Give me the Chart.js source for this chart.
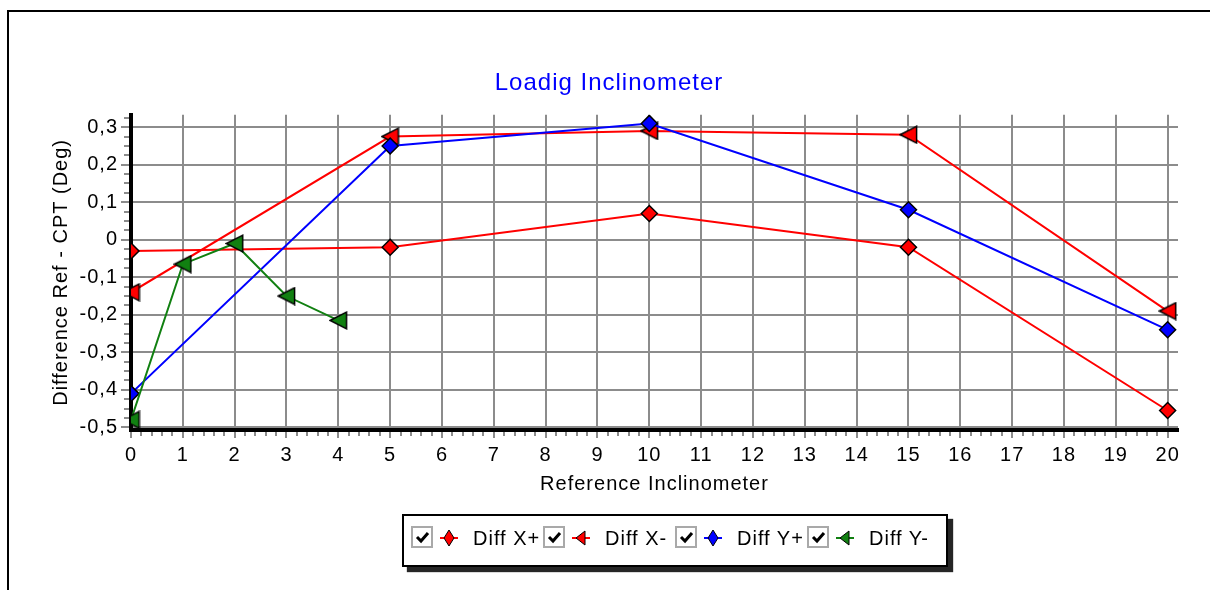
<!DOCTYPE html>
<html>
<head>
<meta charset="utf-8">
<title>Loadig Inclinometer</title>
<script src="https://cdn.jsdelivr.net/npm/chart.js@4.4.1/dist/chart.umd.min.js"></script>
<style>
  html, body { margin: 0; padding: 0; background: #fff; }
  body { width: 1210px; height: 590px; position: relative; overflow: hidden; font-family: 'Liberation Sans', Arial, sans-serif; }
  #frame { position: absolute; left: 7px; top: 10px; right: 0; bottom: 0; border-top: 2px solid #000; border-left: 2px solid #000; }
  #chart { position: absolute; left: 0; top: 0; }
  #legend {
    position: absolute; left: 402px; top: 514px; width: 546px; height: 53px;
    box-sizing: border-box; border: 2px solid #000; background: #fff;
    box-shadow: 5px 5px 1px rgba(0, 0, 0, .85);
    display: flex; padding: 10px 0 0 7px;
  }
  .item { position: relative; width: 132px; height: 24px; flex: none; }
  .item .box { position: absolute; left: 0; top: 0; width: 22px; height: 22px; box-sizing: border-box; border: 2px solid #a9a9a9; background: #fff; }
  .item .box svg { position: absolute; left: 0; top: 0; }
  .item .marker { position: absolute; left: 28px; top: 2px; }
  .item span { position: absolute; left: 62px; top: 0; font-size: 20px; line-height: 24px; letter-spacing: 1px; white-space: nowrap; color: #000; }
</style>
</head>
<body>
<div id="frame"></div>
<canvas id="chart" width="1210" height="590"></canvas>
<div id="legend"></div>
<script>
// reference inclinometer positions
const refSteps = [0, 5, 10, 15, 20];
const refStepsYMinus = [0, 1, 2, 3, 4];

// difference Ref - CPT in degrees
const diffXPlus = [-0.03, -0.02, 0.07, -0.02, -0.455];
const diffXMinus = [-0.14, 0.275, 0.29, 0.28, -0.19];
const diffYPlus = [-0.41, 0.25, 0.31, 0.08, -0.24];
const diffYMinus = [-0.48, -0.065, -0.01, -0.15, -0.215];

const seriesNames = ['Diff X+', 'Diff X-', 'Diff Y+', 'Diff Y-'];
const seriesColors = ['#ff0000', '#ff0000', '#0000ff', '#118011'];
const seriesMarkers = ['diamond', 'triangle', 'diamond', 'triangle'];

const FONT = "'Liberation Sans', Arial, sans-serif";
const GRID = '#8c8c8c';

// left pointing triangle, centred on its box
function triangleMarker(fill) {
    const c = document.createElement('canvas');
    c.width = 19;
    c.height = 19;
    const g = c.getContext('2d');
    g.beginPath();
    g.moveTo(1.2, 9.5);
    g.lineTo(17.6, 1.2);
    g.lineTo(17.6, 17.8);
    g.closePath();
    g.fillStyle = fill;
    g.fill();
    g.lineWidth = 1.5;
    g.strokeStyle = '#000';
    g.stroke();
    return c;
}

function makeDataset(i, xs, ys) {
    const color = seriesColors[i];
    const tri = seriesMarkers[i] === 'triangle';
    return {
        label: seriesNames[i],
        data: xs.map((x, k) => ({x: x, y: ys[k]})),
        borderColor: color,
        borderWidth: 2,
        pointStyle: tri ? triangleMarker(color) : 'rectRot',
        pointRadius: 8,
        pointBackgroundColor: color,
        pointBorderColor: '#000',
        pointBorderWidth: 1.5,
        tension: 0,
        clip: 0,
        order: 4 - i,
    };
}

// small ticks between the labelled ones, plus wider letter spacing for all text
const minorTicks = {
    id: 'minorTicks',
    beforeLayout(chart) { chart.ctx.letterSpacing = '1px'; },
    beforeDraw(chart) { chart.ctx.letterSpacing = '1px'; },
    afterDraw(chart) {
        const {ctx, chartArea, scales: {x, y}} = chart;
        ctx.save();
        ctx.strokeStyle = GRID;
        ctx.lineWidth = 2;
        ctx.beginPath();
        for (let k = -20; k <= 13; k++) {
            if (k % 4 === 0) continue;
            const py = Math.round(y.getPixelForValue(k * 0.025));
            ctx.moveTo(chartArea.left - 7, py);
            ctx.lineTo(chartArea.left - 2, py);
        }
        for (let k = 1; k < 100; k++) {
            if (k % 5 === 0) continue;
            const px = Math.round(x.getPixelForValue(k * 0.2));
            ctx.moveTo(px, chartArea.bottom + 2);
            ctx.lineTo(px, chartArea.bottom + 6);
        }
        ctx.stroke();
        ctx.restore();
    }
};

new Chart(document.getElementById('chart'), {
    type: 'line',
    data: {
        datasets: [
            makeDataset(0, refSteps, diffXPlus),
            makeDataset(1, refSteps, diffXMinus),
            makeDataset(2, refSteps, diffYPlus),
            makeDataset(3, refStepsYMinus, diffYMinus),
        ]
    },
    options: {
        responsive: false,
        animation: false,
        devicePixelRatio: 1,
        events: [],
        layout: {
            padding: {left: 40, right: 32, top: 12, bottom: 90}
        },
        scales: {
            x: {
                type: 'linear',
                min: 0,
                max: 20.2,
                afterFit: (scale) => { scale.height = 70; },
                grid: {color: GRID, lineWidth: 2, tickLength: 8, tickColor: GRID, tickWidth: 2},
                border: {color: '#000', width: 4},
                ticks: {
                    stepSize: 1,
                    autoSkip: false,
                    includeBounds: false,
                    maxRotation: 0,
                    padding: 5,
                    color: '#000',
                    font: {family: FONT, size: 20}
                },
                title: {
                    display: true,
                    text: 'Reference Inclinometer',
                    color: '#000',
                    font: {family: FONT, size: 20},
                    padding: {top: 0, bottom: 4}
                }
            },
            y: {
                min: -0.507,
                max: 0.333,
                afterFit: (scale) => { scale.width = 91; },
                grid: {color: GRID, lineWidth: 2, tickLength: 10, tickColor: GRID, tickWidth: 2},
                border: {color: '#000', width: 4},
                ticks: {
                    stepSize: 0.1,
                    autoSkip: false,
                    includeBounds: false,
                    padding: 3,
                    color: '#000',
                    font: {family: FONT, size: 20},
                    callback: (v) => Math.abs(v) < 1e-9 ? '0' : v.toFixed(1).replace('.', ',')
                },
                title: {
                    display: true,
                    text: 'Difference Ref - CPT (Deg)',
                    color: '#000',
                    font: {family: FONT, size: 20},
                    padding: {top: 9, bottom: 0}
                }
            }
        },
        plugins: {
            legend: {display: false},
            tooltip: {enabled: false},
            title: {
                display: true,
                text: 'Loadig Inclinometer',
                color: '#0000ff',
                font: {family: FONT, size: 24, weight: 'normal'},
                padding: {top: 57, bottom: 17}
            }
        }
    },
    plugins: [minorTicks]
});

// legend row with check boxes
const legend = document.getElementById('legend');
seriesNames.forEach((name, i) => {
    const c = seriesColors[i];
    const shape = seriesMarkers[i] === 'diamond'
        ? '<path d="M10 2 L15 10 L10 18 L5 10 Z" fill="' + c + '" stroke="#000" stroke-width="1"/>'
        : '<path d="M5 10 L14 3 L14 17 Z" fill="' + c + '" stroke="#000" stroke-width="1"/>';
    const item = document.createElement('div');
    item.className = 'item';
    item.innerHTML =
        '<div class="box"><svg width="18" height="18"><polyline points="4,9 8,13 15,5" fill="none" stroke="#000" stroke-width="3"/></svg></div>' +
        '<svg class="marker" width="20" height="20"><line x1="1" y1="10" x2="19" y2="10" stroke="' + c + '" stroke-width="2"/>' + shape + '</svg>' +
        '<span>' + name + '</span>';
    legend.appendChild(item);
});
</script>
</body>
</html>
